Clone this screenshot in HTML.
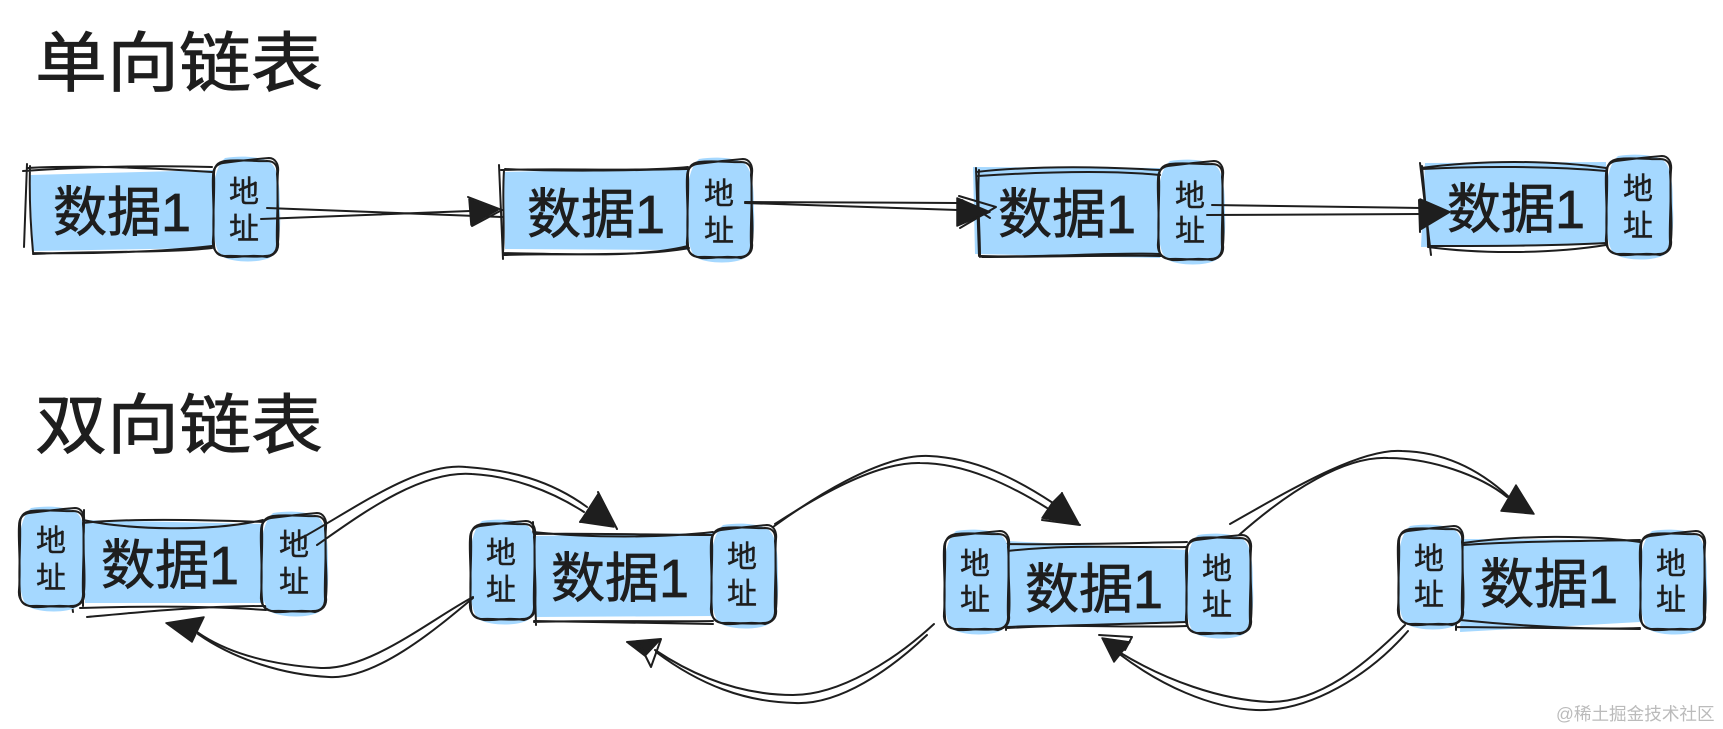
<!DOCTYPE html>
<html><head><meta charset="utf-8">
<style>
html,body{margin:0;padding:0;background:#fff}
svg{display:block}
text{font-family:"Liberation Sans","Noto Sans CJK SC",sans-serif;fill:#1e1e1e}
.t{font-size:72px;stroke:#1e1e1e;stroke-width:.9px}
.d{font-size:54px;stroke:#1e1e1e;stroke-width:.7px}
.a{font-size:30px;stroke:#1e1e1e;stroke-width:.4px}
.s{fill:none;stroke:#1e1e1e;stroke-width:2;stroke-linecap:round;stroke-linejoin:round}
.f{fill:#a5d8ff;stroke:none}
.h{fill:#1e1e1e;stroke:#1e1e1e;stroke-width:1.5;stroke-linejoin:round}
</style></head>
<body>
<svg width="1723" height="729" viewBox="0 0 1723 729" xmlns="http://www.w3.org/2000/svg">
<defs>
<path id="bf" class="f" d="M12 -2C30 -5 50 -3 58 3C66 10 67 30 67 50C68 70 66 90 58 97C48 103 22 103 10 97C2 92 0 75 0 50C0 28 1 8 12 -2Z"/>
<g id="b">
<path class="s" d="M12 1C28 -1 45 2 54 1C62 1 65 6 64 14C66 35 63 65 64 84C64 92 60 96 52 96C38 98 25 95 12 96C5 96 1 92 1 84C-1 60 2 35 1 14C1 6 5 2 12 1Z"/>
<path class="s" d="M10 3C25 1 44 -1 56 -2C62 -2 66 4 65 12C63 40 67 62 65 82C66 90 62 95 54 97C38 94 24 98 14 97C4 95 -1 90 0 80C2 55 -1 30 0 16C0 8 4 4 10 3Z"/>
</g>
</defs>

<text class="t" transform="translate(35,86) scale(1,.91)" x="0" y="0">单向链表</text>
<text class="t" transform="translate(35,448) scale(1,.91)" x="0" y="0">双向链表</text>

<!-- Row 1 -->
<polygon class="f" points="30,175 213,170 213,248 33,251"/>
<path class="s" d="M23 171C80 167 150 165 212 167M27 168C90 165 150 168 212 172M27 164L24 247M30 166C29 200 31 230 33 252M33 253C90 254 160 252 212 246M33 254C100 251 170 253 212 248"/>
<use href="#bf" x="213" y="160"/><use href="#b" x="213" y="160"/>
<text class="d" x="53" y="231">数据1</text>
<text class="a" x="229" y="202">地</text><text class="a" x="229" y="239">址</text>

<polygon class="f" points="504,172 688,168 688,250 505,249"/>
<path class="s" d="M501 170C570 168 640 172 688 167M505 169C570 172 640 170 688 169M499 165L503 259M504 170C502 200 505 230 503 252M503 253C570 254 640 258 688 246M504 255C570 253 640 257 689 248"/>
<use href="#bf" x="687" y="161"/><use href="#b" x="687" y="161"/>
<text class="d" x="527" y="233">数据1</text>
<text class="a" x="704" y="204">地</text><text class="a" x="704" y="241">址</text>

<polygon class="f" points="973,167 1160,168 1160,258 975,254"/>
<path class="s" d="M976 172C1040 165 1110 167 1160 170M978 176C1040 172 1110 170 1160 175M976 168L979 256M979 170C977 200 980 230 980 257M981 256C1040 258 1110 252 1160 254M982 257C1040 257 1110 255 1161 256"/>
<use href="#bf" x="1158" y="163"/><use href="#b" x="1158" y="163"/>
<text class="d" x="998" y="233">数据1</text>
<text class="a" x="1175" y="206">地</text><text class="a" x="1175" y="241">址</text>

<polygon class="f" points="1425,163 1606,162 1606,244 1421,247"/>
<path class="s" d="M1421 168C1480 160 1550 160 1606 168M1422 169C1480 166 1550 166 1606 171M1420 163L1431 255M1422 166C1425 200 1428 230 1428 245M1428 247C1480 254 1550 254 1606 245M1428 246C1490 246 1550 246 1606 243"/>
<use href="#bf" x="1606" y="158"/><use href="#b" x="1606" y="158"/>
<text class="d" x="1447" y="228">数据1</text>
<text class="a" x="1623" y="199">地</text><text class="a" x="1623" y="236">址</text>

<path class="s" d="M267 208L502 217M261 219L470 211M745 202L958 203M745 203L958 210M1212 205L1421 208M1207 215L1421 214"/>
<path class="h" d="M469 199L498 210L471 225Z"/><path class="s" d="M468 197L502 210L472 226"/>
<path class="h" d="M957 198L990 212L957 226Z"/><path class="s" d="M959 196L996 207L960 228M962 200L990 218"/>
<path class="h" d="M1420 199L1450 212L1420 230Z"/><path class="s" d="M1419 200L1420 232"/>

<!-- Row 2 -->
<polygon class="f" points="83,520 263,524 264,603 85,603"/>
<path class="s" d="M83 520C130 530 210 532 263 520M83 523C130 518 210 520 263 522M84 510L83 606M80 608C140 606 210 606 266 610M87 617C140 612 200 606 266 606M72 605L73 612"/>
<use href="#bf" x="19" y="510"/><use href="#b" x="19" y="510"/>
<use href="#bf" x="261" y="515"/><use href="#b" x="261" y="515"/>
<text class="d" x="101" y="584">数据1</text>
<text class="a" x="36" y="551">地</text><text class="a" x="36" y="588">址</text>
<text class="a" x="279" y="555">地</text><text class="a" x="279" y="592">址</text>

<polygon class="f" points="533,536 713,533 713,616 535,617"/>
<path class="s" d="M533 532C590 538 660 538 713 532M533 534C590 533 660 535 713 535M533 522L536 625M534 621C590 622 660 623 713 624M534 622C590 620 660 622 713 621"/>
<use href="#bf" x="470" y="523"/><use href="#b" x="470" y="523"/>
<use href="#bf" x="711" y="527"/><use href="#b" x="711" y="527"/>
<text class="d" x="551" y="597">数据1</text>
<text class="a" x="486" y="563">地</text><text class="a" x="486" y="600">址</text>
<text class="a" x="727" y="567">地</text><text class="a" x="727" y="604">址</text>

<polygon class="f" points="1007,541 1187,550 1187,622 1007,628"/>
<path class="s" d="M1007 544C1070 545 1130 543 1187 542M1007 551C1070 544 1130 548 1187 547M1008 540L1006 630M1007 628C1070 625 1130 624 1187 622M1007 627C1070 624 1130 628 1187 626"/>
<use href="#bf" x="944" y="533"/><use href="#b" x="944" y="533"/>
<use href="#bf" x="1186" y="537"/><use href="#b" x="1186" y="537"/>
<text class="d" x="1025" y="608">数据1</text>
<text class="a" x="960" y="574">地</text><text class="a" x="960" y="610">址</text>
<text class="a" x="1202" y="579">地</text><text class="a" x="1202" y="615">址</text>

<polygon class="f" points="1463,539 1640,540 1640,622 1460,632"/>
<path class="s" d="M1463 543C1520 535 1590 535 1640 542M1463 545C1520 541 1590 541 1640 540M1460 620C1520 626 1590 630 1640 628M1456 627L1640 629M1456 617L1456 630"/>
<use href="#bf" x="1398" y="528"/><use href="#b" x="1398" y="528"/>
<use href="#bf" x="1640" y="533"/><use href="#b" x="1640" y="533"/>
<text class="d" x="1480" y="603">数据1</text>
<text class="a" x="1414" y="569">地</text><text class="a" x="1414" y="605">址</text>
<text class="a" x="1656" y="574">地</text><text class="a" x="1656" y="610">址</text>

<!-- Curves -->
<path class="s" d="M307 535C360 505 420 462 466 467C510 470 550 480 587 507"/>
<path class="s" d="M317 545C360 515 420 470 472 474C510 476 550 490 584 512"/>
<path class="h" d="M598 494L614 527L580 522Z"/><path class="s" d="M598 492L617 529M596 500L580 522"/>

<path class="s" d="M773 527C810 500 880 454 929 456C975 458 1015 478 1053 503"/>
<path class="s" d="M775 524C815 498 875 462 920 463C965 463 1010 485 1047 508"/>
<path class="h" d="M1062 493L1079 524L1042 518L1052 503Z"/><path class="s" d="M1062 493L1063 505M1042 520L1080 525"/>

<path class="s" d="M1230 524C1290 490 1360 448 1402 451C1445 452 1480 470 1509 497"/>
<path class="s" d="M1239 535C1290 490 1345 456 1388 458C1430 458 1480 475 1507 497"/>
<path class="h" d="M1516 485L1534 514L1501 511Z"/>

<path class="s" d="M473 597C430 620 370 670 321 668C275 665 230 655 197 632"/>
<path class="s" d="M473 598C435 630 375 680 329 677C285 675 235 660 198 634"/>
<path class="h" d="M204 617L166 623L192 642Z"/>

<path class="s" d="M934 624C895 660 840 695 793 695C745 695 700 680 655 650"/>
<path class="s" d="M927 635C890 670 840 705 795 703C745 702 700 685 656 652"/>
<path class="h" d="M660 640L628 643L645 656Z"/><path class="s" d="M627 642L661 639L651 667L640 645"/>

<path class="s" d="M1405 625C1365 665 1320 702 1270 702C1220 700 1165 680 1119 652"/>
<path class="s" d="M1408 631C1370 675 1310 712 1256 710C1210 708 1160 685 1118 653"/>
<path class="h" d="M1102 638L1130 642L1114 662Z"/><path class="s" d="M1099 635L1132 637L1125 650"/>

<text x="1556" y="720" style="font-size:17.6px;fill:#bbb">@稀土掘金技术社区</text>
</svg>
</body></html>
